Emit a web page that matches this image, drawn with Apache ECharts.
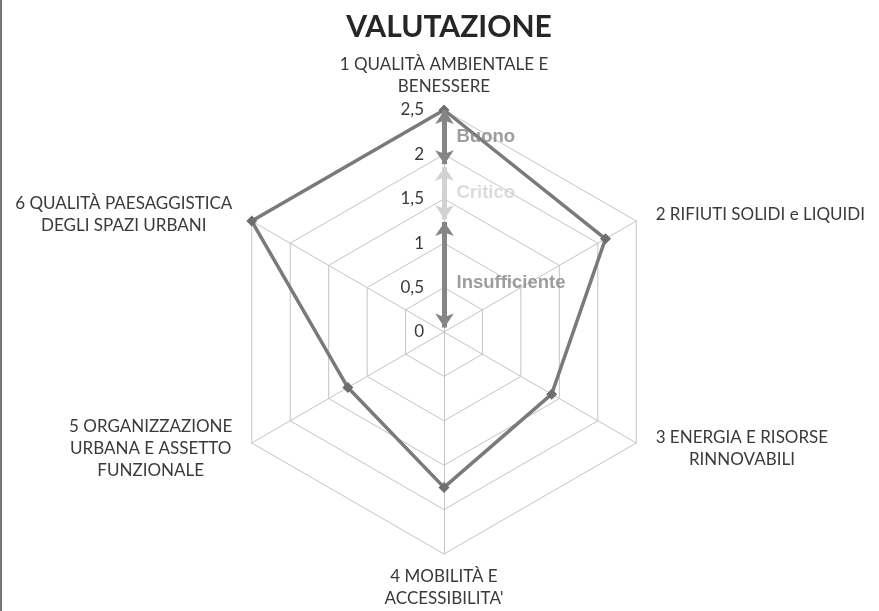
<!DOCTYPE html>
<html>
<head>
<meta charset="utf-8">
<script src="https://cdn.jsdelivr.net/npm/echarts@6/dist/echarts.min.js"></script>
<style>
  html, body { margin: 0; padding: 0; background: #fff; }
  #container { width: 879px; height: 611px; }
</style>
</head>
<body>
<div id="container"></div>
<script>
var myChart = echarts.init(document.getElementById('container'));

var indicators = [
  '1 QUALITÀ AMBIENTALE E\nBENESSERE',
  '2 RIFIUTI SOLIDI e LIQUIDI',
  '3 ENERGIA E RISORSE\nRINNOVABILI',
  '4 MOBILITÀ E\nACCESSIBILITA\'',
  '5 ORGANIZZAZIONE\nURBANA E ASSETTO\nFUNZIONALE',
  '6 QUALITÀ PAESAGGISTICA\nDEGLI SPAZI URBANI'
];
var values = [2.5, 2.1, 1.4, 1.75, 1.25, 2.5];
var maxValue = 2.5;
var tickStep = 0.5;

// rating bands drawn as double arrows along the first axis
var bandNames = ['Buono', 'Critico', 'Insufficiente'];
var bandFrom = [2.5, 1.86, 1.24];
var bandTo = [1.89, 1.27, 0.05];
var bandLabelAt = [2.2, 1.57, 0.55];
var bandColors = ['#858585', '#d2d2d2', '#858585'];

// echarts lays radar axes out counter-clockwise; reorder so they run clockwise
function clockwise(arr) {
  return [arr[0]].concat(arr.slice(1).reverse());
}

var cx = 444, cy = 332, R = 222;
var font = 'Lato, "Noto Sans", sans-serif';

var option = {
  backgroundColor: '#ffffff',
  title: {
    text: 'VALUTAZIONE',
    left: cx,
    textAlign: 'center',
    top: 7,
    textStyle: {
      color: '#262626',
      fontSize: 30,
      fontWeight: 'bold',
      fontFamily: font
    }
  },
  radar: {
    center: [cx, cy],
    radius: R,
    shape: 'polygon',
    startAngle: 90,
    splitNumber: maxValue / tickStep,
    indicator: clockwise(indicators).map(function (n) { return { name: n, max: maxValue, min: 0 }; }),
    nameGap: 12,
    axisName: {
      color: '#3a3a3a',
      formatter: function (name) {
        return name.split('\n').map(function (l) { return '{c|' + l + '}'; }).join('\n');
      },
      rich: {
        c: { align: 'center', fontSize: 17, lineHeight: 22, padding: [0, 9], color: '#3a3a3a', fontFamily: font }
      }
    },
    axisLine: { lineStyle: { color: '#c4c4c4', width: 1 } },
    splitLine: { lineStyle: { color: '#c4c4c4', width: 1 } },
    splitArea: { show: false },
    axisLabel: { show: false }
  },
  grid: {
    left: cx,
    top: cy - R,
    width: 1,
    height: R,
    containLabel: false
  },
  xAxis: {
    type: 'value',
    min: -1,
    max: 1,
    show: false
  },
  yAxis: {
    type: 'value',
    min: 0,
    max: maxValue,
    interval: tickStep,
    axisLine: { show: false },
    axisTick: { show: false },
    splitLine: { show: false },
    axisLabel: {
      margin: 20,
      color: '#3a3a3a',
      fontSize: 17,
      fontFamily: font,
      formatter: function (v) { return String(v).replace('.', ','); }
    }
  },
  series: [
    {
      type: 'radar',
      symbol: 'diamond',
      symbolSize: 11,
      lineStyle: { color: '#7a7a7a', width: 3.5 },
      itemStyle: { color: '#6e6e6e' },
      data: [{ value: clockwise(values), name: 'Valutazione' }]
    },
    {
      type: 'scatter',
      symbolSize: 0,
      z: 6,
      data: bandNames.map(function (n, i) {
        return {
          name: n,
          value: [0, bandLabelAt[i]],
          label: {
            show: true,
            position: 'right',
            distance: 12,
            formatter: '{b}',
            color: bandColors[i],
            fontSize: 18.5,
            fontWeight: 'bold',
            fontFamily: '"Liberation Sans", Arial, sans-serif'
          }
        };
      }),
      markLine: {
        silent: true,
        symbol: ['arrow', 'arrow'],
        symbolSize: 14,
        label: { show: false },
        data: bandNames.map(function (n, i) {
          return [
            { coord: [0, bandFrom[i]], lineStyle: { color: bandColors[i], width: 5, type: 'solid' } },
            { coord: [0, bandTo[i]] }
          ];
        })
      }
    }
  ],
  graphic: [
    {
      type: 'rect',
      shape: { x: 0, y: 0, width: 2, height: 611 },
      style: { fill: '#767676' },
      silent: true
    }
  ]
};

myChart.setOption(option);
</script>
</body>
</html>
